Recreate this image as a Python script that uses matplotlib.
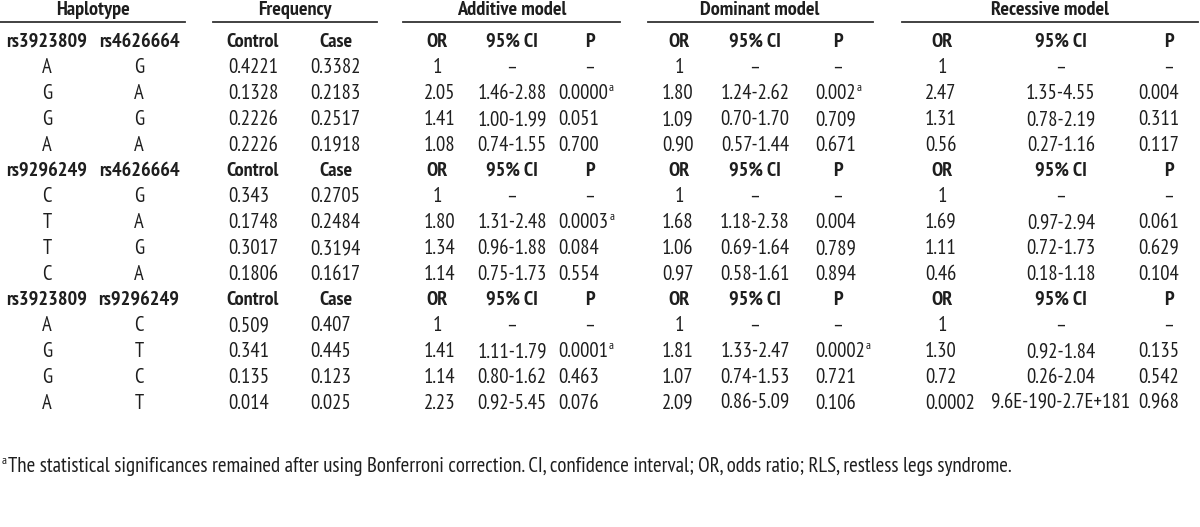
import matplotlib
matplotlib.use("Agg")
import matplotlib.pyplot as plt
from matplotlib import font_manager

# ---------------- data ----------------
group_headers = [("rs3923809", "rs4626664"), ("rs9296249", "rs4626664"), ("rs3923809", "rs9296249")]
allele1 = [["A", "G", "G", "A"], ["C", "T", "T", "C"], ["A", "G", "G", "A"]]
allele2 = [["G", "A", "G", "A"], ["G", "A", "G", "A"], ["C", "T", "C", "T"]]
control = [["0.4221", "0.1328", "0.2226", "0.2226"], ["0.343", "0.1748", "0.3017", "0.1806"], ["0.509", "0.341", "0.135", "0.014"]]
case = [["0.3382", "0.2183", "0.2517", "0.1918"], ["0.2705", "0.2484", "0.3194", "0.1617"], ["0.407", "0.445", "0.123", "0.025"]]
add_or = [["1", "2.05", "1.41", "1.08"], ["1", "1.80", "1.34", "1.14"], ["1", "1.41", "1.14", "2.23"]]
add_ci = [["–", "1.46-2.88", "1.00-1.99", "0.74-1.55"], ["–", "1.31-2.48", "0.96-1.88", "0.75-1.73"], ["–", "1.11-1.79", "0.80-1.62", "0.92-5.45"]]
add_p = [["–", "0.0000a", "0.051", "0.700"], ["–", "0.0003a", "0.084", "0.554"], ["–", "0.0001a", "0.463", "0.076"]]
dom_or = [["1", "1.80", "1.09", "0.90"], ["1", "1.68", "1.06", "0.97"], ["1", "1.81", "1.07", "2.09"]]
dom_ci = [["–", "1.24-2.62", "0.70-1.70", "0.57-1.44"], ["–", "1.18-2.38", "0.69-1.64", "0.58-1.61"], ["–", "1.33-2.47", "0.74-1.53", "0.86-5.09"]]
dom_p = [["–", "0.002a", "0.709", "0.671"], ["–", "0.004", "0.789", "0.894"], ["–", "0.0002a", "0.721", "0.106"]]
rec_or = [["1", "2.47", "1.31", "0.56"], ["1", "1.69", "1.11", "0.46"], ["1", "1.30", "0.72", "0.0002"]]
rec_ci = [["–", "1.35-4.55", "0.78-2.19", "0.27-1.16"], ["–", "0.97-2.94", "0.72-1.73", "0.18-1.18"], ["–", "0.92-1.84", "0.26-2.04", "9.6E-190-2.7E+181"]]
rec_p = [["–", "0.004", "0.311", "0.117"], ["–", "0.061", "0.629", "0.104"], ["–", "0.135", "0.542", "0.968"]]

top_headers = ["Haplotype", "Frequency", "Additive model", "Dominant model", "Recessive model"]
sub_labels = ["Control", "Case", "OR", "95% CI", "P", "OR", "95% CI", "P", "OR", "95% CI", "P"]
footnote = "The statistical significances remained after using Bonferroni correction. CI, confidence interval; OR, odds ratio; RLS, restless legs syndrome."

# ---------------- font choice ----------------
fams = {}
for f in font_manager.fontManager.ttflist:
    fams.setdefault(f.name, []).append(f)


def static_bold(name):
    return any(f.weight in (700, "bold") and "[" not in f.fname for f in fams.get(name, [])) and \
        any(f.weight in (400, "normal", "regular") and "[" not in f.fname for f in fams.get(name, []))


prefs = ["Nimbus Sans Narrow", "Liberation Sans Narrow", "Arial Narrow", "Archivo Narrow",
         "PT Sans Narrow", "IBM Plex Sans Condensed", "Roboto Condensed", "Encode Sans Condensed",
         "Fira Sans Condensed", "Liberation Sans"]
chosen = next((p for p in prefs if p in fams and static_bold(p)), "DejaVu Sans")
fam = [chosen, "DejaVu Sans"]

# ---------------- layout ----------------
W, H = 1200, 527
fig = plt.figure(figsize=(W / 100, H / 100), dpi=100)
fig.patch.set_facecolor("white")
renderer = fig.canvas.get_renderer()


def fit_size(sample, target_px, bold=False):
    t = fig.text(0, 0, sample, fontsize=10, family=fam, fontweight="bold" if bold else "normal")
    w = t.get_window_extent(renderer).width
    t.remove()
    return 10 * target_px / w


FS = fit_size("0.4221", 50)
FSB = fit_size("rs3923809", 81, bold=True)
FSF = fit_size(footnote, 1006)
COL = "#1e1e1e"
sups = []


def px(x, y):
    return x / W, 1 - y / H


def put(x, y, s, ha="center", bold=False):
    sup = False
    if s.endswith("a") and s[:-1].replace(".", "").isdigit():
        s = s[:-1]
        sup = True
    t = fig.text(*px(x, y), s, ha=ha, va="center", fontsize=FSB if bold else FS, color=COL,
                 fontweight="bold" if bold else "normal", family=fam)
    if sup:
        sups.append(t)
    return t


# top headers and underlines
top_centers = [93, 295, 512, 760, 1050]
spans = [(0, 185), (213, 377), (403, 620), (648, 873), (902, 1198)]
for h, cx, (a, b) in zip(top_headers, top_centers, spans):
    put(cx, 10, h, bold=True)
    fig.add_artist(plt.Line2D([a / W, b / W], [1 - 22 / H] * 2, color="#333333", lw=1.3))

# column definitions: (center, left-for-numbers or None)
cols = [
    (253, 228), (336, 310),
    (437, 424), (512, None), (590, 558),
    (679, 662), (755, None), (838, 815),
    (942, 925), (1061, None), (1169, 1138),
]
series = [control, case, add_or, add_ci, add_p, dom_or, dom_ci, dom_p, rec_or, rec_ci, rec_p]

y0, dy = 42, 25.8
for g in range(3):
    yh = y0 + dy * 5 * g
    put(47, yh, group_headers[g][0], bold=True)
    put(139, yh, group_headers[g][1], bold=True)
    for (c, _), lab in zip(cols, sub_labels):
        put(c, yh, lab, bold=True)
    for r in range(4):
        y = yh + dy * (r + 1)
        put(47, y, allele1[g][r])
        put(139, y, allele2[g][r])
        for (c, left), ser in zip(cols, series):
            v = ser[g][r]
            if left is None or v in ("1", "–"):
                put(c, y, v)
            else:
                put(left, y, v, ha="left")

# footnote
fig.text(*px(8, 466), footnote, ha="left", va="center", fontsize=FSF, color=COL, family=fam)
fig.text(*px(2, 461), "a", ha="left", va="center", fontsize=FS * 0.6, color=COL, family=fam)

fig.canvas.draw()
for t in sups:
    bb = t.get_window_extent(renderer)
    fig.text((bb.x1 + 1) / W, (bb.y1 - 4) / H, "a", ha="left", va="center",
             fontsize=FS * 0.6, color=COL, family=fam)

fig.savefig("out.png", dpi=100, facecolor="white")
